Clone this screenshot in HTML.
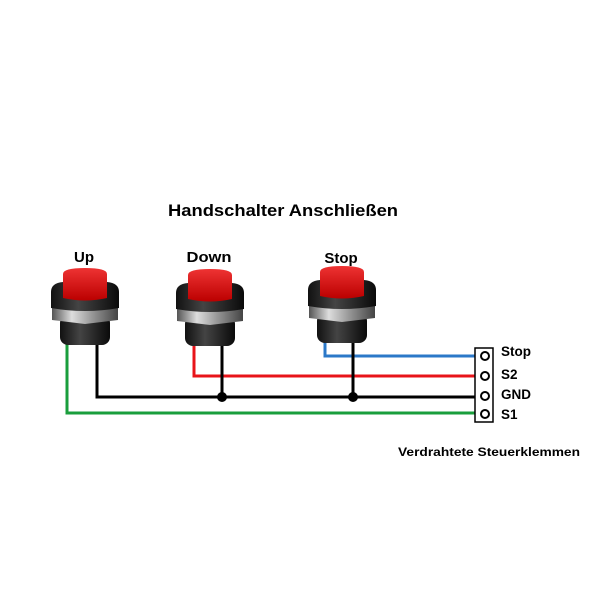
<!DOCTYPE html>
<html><head><style>
html,body{margin:0;padding:0;background:#fff;}
svg{display:block;}
text{font-family:"Liberation Sans",Arial,sans-serif;font-weight:bold;fill:#000;}
</style></head><body>
<svg width="600" height="600" viewBox="0 0 600 600" xmlns="http://www.w3.org/2000/svg">
<defs>
<linearGradient id="nut" x1="0" x2="1" y1="0" y2="0">
<stop offset="0" stop-color="#555"/><stop offset="0.3" stop-color="#ddd"/><stop offset="0.6" stop-color="#999"/><stop offset="1" stop-color="#444"/>
</linearGradient>
<linearGradient id="blk" x1="0" x2="1" y1="0" y2="0">
<stop offset="0" stop-color="#111"/><stop offset="0.4" stop-color="#444"/><stop offset="1" stop-color="#0a0a0a"/>
</linearGradient>
<linearGradient id="red" x1="0" x2="0" y1="0" y2="1">
<stop offset="0" stop-color="#e33"/><stop offset="1" stop-color="#b00"/>
</linearGradient>
<g id="btn">
<rect x="-25" y="45" width="50" height="30" rx="8" fill="url(#blk)"/>
<path d="M-33 36 L33 36 L33 50 L0 54 L-33 50 Z" fill="url(#nut)"/>
<path d="M-34 22 Q-34 13 -22 12 L22 12 Q34 13 34 22 L34 38 Q0 44 -34 38 Z" fill="url(#blk)"/>
<path d="M-22 4 Q-22 -2 0 -2 Q22 -2 22 4 L22 28 Q0 33 -22 28 Z" fill="url(#red)"/>
</g>
</defs>
<text x="168" y="216" font-size="17" textLength="230" lengthAdjust="spacingAndGlyphs">Handschalter Anschließen</text>
<text x="84" y="262" font-size="15" text-anchor="middle">Up</text>
<text x="209" y="262" font-size="15" text-anchor="middle" textLength="45" lengthAdjust="spacingAndGlyphs">Down</text>
<text x="341" y="263" font-size="15" text-anchor="middle">Stop</text>
<g fill="none" stroke-width="3">
<polyline points="67,340 67,413 480,413" stroke="#1a9e3c"/>
<polyline points="97,340 97,397 480,397" stroke="#000"/>
<polyline points="194,342 194,376 480,376" stroke="#e8141a"/>
<line x1="222" y1="342" x2="222" y2="397" stroke="#000"/>
<polyline points="325,336 325,356 480,356" stroke="#2b78c8"/>
<line x1="353" y1="336" x2="353" y2="397" stroke="#000"/>
</g>
<circle cx="222" cy="397" r="5" fill="#000"/>
<circle cx="353" cy="397" r="5" fill="#000"/>
<use href="#btn" x="85" y="270"/>
<use href="#btn" x="210" y="271"/>
<use href="#btn" x="342" y="268"/>
<rect x="475" y="348" width="18" height="74" fill="#fff" stroke="#000" stroke-width="1.5"/>
<g fill="#fff" stroke="#000" stroke-width="2">
<circle cx="485" cy="356" r="4"/><circle cx="485" cy="376" r="4"/><circle cx="485" cy="396" r="4"/><circle cx="485" cy="414" r="4"/>
</g>
<text x="501" y="356" font-size="13.5">Stop</text>
<text x="501" y="379" font-size="13.5">S2</text>
<text x="501" y="399" font-size="13.5">GND</text>
<text x="501" y="419" font-size="13.5">S1</text>
<text x="398" y="456" font-size="12" textLength="182" lengthAdjust="spacingAndGlyphs">Verdrahtete Steuerklemmen</text>
</svg>
</body></html>
